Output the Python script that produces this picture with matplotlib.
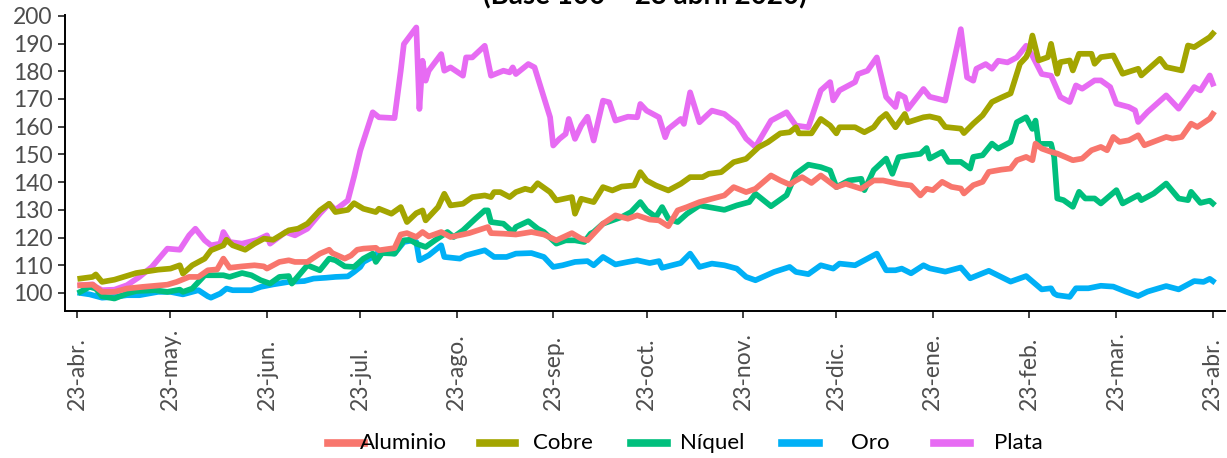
import pandas as pd
import matplotlib
matplotlib.use('Agg')
import matplotlib.pyplot as plt
from matplotlib.lines import Line2D

# Indices de precios de metales (base 100 = 23 abril 2020), dias desde la fecha base
inicio = pd.Timestamp('2020-04-23')

aluminio_dias = [1, 5, 8, 12, 16, 21, 29, 32, 36, 39, 42, 45, 47, 49, 53, 57, 60, 61, 65, 68,
                 70, 74, 78, 81, 82, 86, 88, 90, 92, 96, 97, 102, 104, 106, 109, 111, 113, 117, 120, 124,
                 126, 132, 133, 137, 141, 146, 150, 154, 159, 162, 164, 169, 173, 177, 180, 184, 187, 190, 193, 196,
                 200, 206, 208, 211, 215, 218, 223, 226, 229, 231, 233, 236, 239, 244, 247, 252, 256, 259, 264, 268,
                 271, 273, 275, 278, 281, 284, 285, 288, 291, 293, 297, 300, 302, 305, 307, 308, 310, 313, 315, 320,
                 323, 326, 329, 331, 333, 335, 338, 341, 343, 350, 352, 355, 358, 360, 364, 365]
aluminio = [102.8, 103.0, 100.4, 100.4, 101.6, 102.2, 103.0, 104.0, 105.8, 105.8, 108.2, 108.5, 112.4, 109.1, 109.6, 110.0, 109.6, 108.8, 111.2, 111.8,
            111.2, 111.2, 114.2, 115.6, 114.4, 112.4, 113.5, 115.6, 116.0, 116.3, 115.4, 116.2, 121.1, 121.6, 120.2, 122.0, 120.4, 122.0, 120.2, 121.1,
            121.6, 123.8, 121.6, 121.4, 121.1, 122.0, 121.1, 119.0, 121.6, 119.6, 119.0, 125.0, 128.0, 126.8, 128.0, 126.5, 126.2, 124.1, 129.8, 131.0,
            132.8, 134.6, 135.2, 138.2, 136.4, 137.6, 142.4, 140.6, 139.1, 140.6, 141.8, 139.7, 142.4, 138.2, 139.4, 137.6, 140.6, 140.6, 139.4, 138.8,
            135.2, 137.6, 137.1, 140.1, 138.3, 137.7, 135.9, 138.9, 140.1, 143.7, 144.5, 144.9, 147.9, 149.1, 147.9, 153.9, 152.1, 150.9, 150.3, 147.9,
            148.5, 151.5, 152.7, 151.5, 156.3, 154.5, 155.1, 156.9, 153.3, 156.3, 155.7, 156.3, 161.1, 159.9, 162.9, 164.6]

cobre_dias = [1, 5, 6, 8, 12, 19, 26, 30, 33, 34, 37, 41, 43, 47, 48, 50, 54, 57, 60, 63,
              68, 71, 74, 78, 81, 83, 87, 89, 92, 96, 97, 101, 104, 106, 109, 111, 112, 114, 116, 118,
              120, 124, 127, 131, 133, 134, 136, 139, 141, 144, 146, 148, 152, 154, 159, 160, 162, 166, 169, 172,
              175, 179, 181, 183, 186, 190, 194, 197, 201, 203, 207, 211, 215, 219, 222, 226, 229, 231, 232, 236,
              239, 242, 244, 245, 250, 253, 256, 258, 260, 263, 266, 267, 272, 274, 277, 279, 284, 285, 288, 291,
              294, 297, 300, 303, 305, 306, 307, 309, 312, 313, 315, 316, 319, 320, 322, 326, 327, 329, 333, 336,
              341, 342, 348, 350, 355, 357, 359, 364, 365]
cobre = [105.2, 105.8, 106.7, 104.0, 104.8, 107.2, 108.4, 108.8, 110.0, 107.0, 110.0, 112.4, 115.4, 117.2, 119.2, 117.2, 115.6, 117.8, 119.6, 119.2,
         122.6, 123.2, 125.0, 129.8, 132.2, 129.2, 130.0, 132.4, 130.4, 129.2, 130.4, 128.6, 131.0, 125.6, 128.8, 129.8, 126.2, 128.6, 131.0, 135.8,
         131.6, 132.2, 134.6, 135.2, 134.6, 136.4, 136.4, 134.6, 136.4, 137.6, 137.0, 139.6, 136.4, 133.4, 134.6, 128.6, 134.0, 132.8, 138.2, 137.0,
         138.4, 138.8, 143.6, 140.6, 138.8, 137.0, 139.4, 141.8, 141.8, 143.0, 143.6, 147.2, 148.4, 152.6, 154.4, 157.6, 158.0, 159.8, 157.6, 157.6,
         162.8, 160.4, 157.6, 159.8, 159.8, 158.0, 159.8, 162.8, 164.6, 159.8, 164.6, 161.6, 163.4, 163.7, 162.9, 159.9, 159.3, 157.7, 161.1, 164.1,
         168.9, 170.5, 172.0, 182.7, 185.1, 187.5, 192.9, 183.9, 185.1, 189.9, 179.1, 183.3, 183.9, 180.3, 186.3, 186.3, 182.7, 185.1, 185.7, 179.1,
         180.9, 178.5, 184.5, 181.5, 180.3, 189.3, 188.7, 192.3, 193.6]

niquel_dias = [1, 4, 6, 8, 12, 16, 19, 25, 29, 33, 34, 37, 41, 44, 47, 49, 53, 56, 59, 62,
               65, 68, 69, 74, 78, 81, 83, 86, 89, 92, 95, 96, 98, 102, 105, 107, 109, 112, 115, 119,
               121, 124, 128, 131, 132, 133, 137, 140, 141, 145, 148, 150, 154, 157, 160, 163, 165, 166, 169, 172,
               175, 178, 181, 183, 186, 188, 190, 193, 196, 200, 203, 208, 212, 216, 218, 223, 228, 231, 235, 239,
               242, 244, 248, 252, 253, 256, 260, 262, 264, 267, 271, 273, 274, 278, 280, 284, 287, 288, 291, 294,
               296, 300, 302, 305, 307, 308, 309, 313, 314, 315, 317, 320, 322, 324, 327, 329, 334, 336, 341, 342,
               346, 350, 354, 357, 358, 361, 364, 365]
niquel = [100.4, 102.2, 101.6, 98.8, 98.0, 99.8, 100.7, 101.0, 100.4, 101.2, 100.4, 101.6, 106.4, 106.4, 106.4, 105.8, 107.2, 106.4, 104.6, 103.4,
          105.8, 106.1, 103.4, 110.0, 108.2, 112.4, 111.8, 109.6, 109.4, 112.4, 114.2, 111.2, 114.4, 114.2, 119.0, 119.2, 117.8, 116.6, 119.0, 122.0,
          120.2, 122.6, 126.8, 129.8, 129.8, 125.6, 125.0, 122.0, 123.8, 125.9, 123.2, 122.0, 117.8, 119.0, 119.0, 118.4, 121.4, 122.0, 125.0, 126.2,
          127.4, 129.2, 132.8, 129.8, 127.4, 131.0, 126.8, 125.6, 128.6, 131.6, 131.0, 130.0, 131.6, 132.8, 135.8, 131.3, 135.3, 143.0, 146.3, 145.4,
          144.2, 138.2, 140.6, 141.2, 137.1, 144.3, 148.5, 143.0, 149.0, 149.6, 150.2, 152.3, 148.5, 150.9, 147.3, 147.3, 144.9, 149.1, 149.7, 153.9,
          152.1, 154.5, 161.6, 163.4, 159.2, 162.2, 153.8, 153.8, 149.1, 134.1, 133.5, 131.1, 136.5, 134.1, 134.1, 132.3, 137.1, 132.3, 135.3, 133.5,
          135.9, 139.5, 134.1, 133.5, 136.5, 132.5, 133.3, 132.3]

oro_dias = [1, 4, 8, 12, 16, 20, 26, 30, 34, 37, 39, 42, 43, 46, 48, 50, 56, 59, 63, 68,
            73, 76, 80, 83, 87, 89, 91, 92, 96, 97, 102, 105, 108, 109, 110, 113, 117, 118, 123, 125,
            131, 134, 138, 141, 146, 150, 153, 156, 160, 164, 166, 169, 173, 177, 180, 184, 187, 188, 194, 197,
            200, 202, 204, 208, 212, 215, 218, 224, 229, 231, 235, 239, 243, 245, 250, 253, 257, 260, 263, 265,
            268, 272, 274, 279, 284, 287, 293, 300, 305, 310, 313, 314, 315, 319, 321, 325, 329, 333, 337, 341,
            344, 350, 354, 359, 362, 364, 365]
oro = [100.0, 99.5, 98.3, 98.6, 99.2, 99.2, 100.4, 100.4, 99.5, 100.4, 101.0, 98.8, 98.3, 99.8, 101.6, 101.0, 101.0, 102.2, 103.1, 104.0,
       104.3, 105.2, 105.5, 105.8, 106.0, 107.6, 109.4, 111.2, 113.6, 115.1, 114.2, 118.4, 119.0, 118.4, 111.8, 113.6, 117.2, 113.0, 112.4, 113.6,
       115.4, 113.0, 113.0, 114.2, 114.4, 113.0, 109.4, 110.0, 111.2, 111.5, 110.0, 113.0, 110.3, 111.2, 111.8, 110.8, 111.5, 109.1, 110.8, 114.2,
       109.4, 110.0, 110.6, 110.0, 108.8, 105.8, 104.6, 107.6, 109.4, 107.6, 106.8, 110.0, 108.8, 110.6, 110.0, 111.8, 114.2, 108.2, 108.2, 108.8,
       107.1, 110.0, 108.9, 107.7, 109.2, 105.3, 108.0, 104.1, 106.1, 101.3, 101.7, 99.8, 99.2, 98.6, 101.7, 101.7, 102.6, 102.3, 100.5, 98.9,
       100.5, 102.5, 101.3, 104.3, 104.0, 105.1, 104.3]

plata_dias = [1, 5, 6, 8, 12, 16, 20, 24, 29, 33, 36, 38, 41, 43, 46, 47, 49, 53, 58, 61,
              62, 67, 70, 74, 78, 81, 83, 87, 89, 91, 95, 97, 102, 104, 105, 109, 110, 111, 112, 113,
              117, 118, 120, 124, 125, 127, 131, 133, 137, 139, 140, 141, 145, 147, 150, 152, 153, 155, 157, 158,
              160, 162, 164, 166, 169, 171, 173, 177, 180, 181, 183, 187, 189, 190, 194, 195, 197, 200, 204, 208,
              212, 215, 218, 223, 228, 231, 235, 239, 242, 243, 245, 250, 251, 254, 257, 260, 263, 264, 266, 267,
              272, 274, 279, 284, 286, 288, 289, 292, 294, 296, 299, 302, 305, 307, 310, 313, 316, 319, 321, 323,
              327, 329, 332, 334, 338, 340, 341, 344, 350, 354, 359, 361, 364, 365]
plata = [102.8, 103.1, 102.2, 101.0, 101.2, 102.8, 105.8, 109.4, 116.0, 115.6, 120.8, 123.2, 119.0, 117.2, 117.8, 122.0, 118.4, 117.8, 119.2, 120.8,
         117.8, 122.0, 120.8, 123.2, 128.6, 132.2, 130.0, 133.4, 142.0, 151.4, 165.2, 163.4, 163.1, 180.2, 189.8, 195.8, 166.4, 183.8, 176.6, 180.2,
         186.2, 180.2, 181.4, 178.4, 185.0, 185.0, 189.2, 178.4, 180.2, 179.6, 181.4, 179.0, 182.6, 181.4, 170.6, 163.4, 153.2, 155.6, 157.4, 162.8,
         155.6, 160.4, 163.6, 155.0, 169.4, 168.8, 162.2, 163.6, 163.4, 168.2, 165.8, 163.4, 156.2, 159.2, 162.8, 161.0, 172.4, 161.6, 165.8, 164.6,
         161.0, 155.7, 152.7, 162.2, 165.2, 160.4, 159.8, 173.1, 176.1, 169.5, 173.1, 176.1, 179.0, 180.2, 185.0, 170.7, 167.1, 171.8, 170.6, 166.4,
         173.6, 170.8, 169.4, 195.2, 177.8, 176.6, 180.9, 182.6, 180.9, 183.8, 183.2, 185.0, 189.2, 185.6, 179.0, 178.4, 170.7, 168.9, 174.9, 173.7,
         176.7, 176.7, 174.3, 168.3, 167.1, 165.9, 161.7, 165.3, 171.3, 166.5, 174.3, 173.1, 178.5, 175.5]

metales = ['Aluminio', 'Cobre', 'Níquel', 'Oro', 'Plata']
colores = ['#F8766D', '#A3A500', '#00BF7D', '#00B0F6', '#E76BF3']
series = [(aluminio_dias, aluminio), (cobre_dias, cobre), (niquel_dias, niquel),
          (oro_dias, oro), (plata_dias, plata)]

meses = ['abr.', 'may.', 'jun.', 'jul.', 'ago.', 'sep.', 'oct.', 'nov.', 'dic.',
         'ene.', 'feb.', 'mar.', 'abr.']
etiquetas_x = ['23-' + m for m in meses]
ticks_x = pd.date_range(inicio, periods=len(meses), freq=pd.DateOffset(months=1))
ticks_y = list(range(100, 201, 10))

plt.rcParams['font.family'] = ['Lato', 'DejaVu Sans']

W, H = 1227, 458
fig = plt.figure(figsize=(W / 100, H / 100), dpi=100)
ax = fig.add_axes([65 / W, 1 - 311 / H, (1225 - 65) / W, (311 - 15) / H])

n = len(metales)
for i, (nombre, color, (dias, valores)) in enumerate(zip(metales, colores, series)):
    fechas = inicio + pd.to_timedelta(dias, unit='D')
    ax.plot(fechas, valores, color=color, lw=4.1, solid_joinstyle='round',
            zorder=2 + n - i)

ax.set_xlim(inicio - pd.Timedelta(days=3.9), inicio + pd.Timedelta(days=368.9))
ax.set_ylim(93.5, 200.3)

for lado in ['top', 'right']:
    ax.spines[lado].set_visible(False)
for lado in ['left', 'bottom']:
    ax.spines[lado].set_linewidth(1.4)
    ax.spines[lado].set_color('black')

ax.set_yticks(ticks_y)
ax.tick_params(axis='y', length=5, width=1.3, color='#333333', pad=4,
               labelsize=16.5, labelcolor='#4D4D4D')
ax.set_xticks(ticks_x)
ax.set_xticklabels([])
ax.tick_params(axis='x', length=5, width=1.3, color='#333333')

# etiquetas del eje x giradas, alineadas por su comienzo
for fecha, texto in zip(ticks_x, etiquetas_x):
    ax.text(fecha, -(410 - 311) / 296, texto, transform=ax.get_xaxis_transform(),
            rotation=90, ha='center', va='bottom', fontsize=16.5, color='#4D4D4D')

fig.text(645 / W, 1 - 4 / H, '(Base 100 = 23 abril 2020)', ha='center',
         va='baseline', fontsize=20, fontweight='bold')

# leyenda inferior
claves = [(328, 364), (480, 515), (631, 667), (782, 819), (934, 970)]
textos_x = [360, 533, 680, 851, 994]
y_ley = 1 - 443 / H
for nombre, color, (x0, x1), xt in zip(metales, colores, claves, textos_x):
    fig.add_artist(Line2D([x0 / W, x1 / W], [y_ley, y_ley], transform=fig.transFigure,
                          color=color, lw=5.5))
    fig.text(xt / W, y_ley, nombre, ha='left', va='center', fontsize=16, color='black')

fig.savefig('out.png', dpi=100)
